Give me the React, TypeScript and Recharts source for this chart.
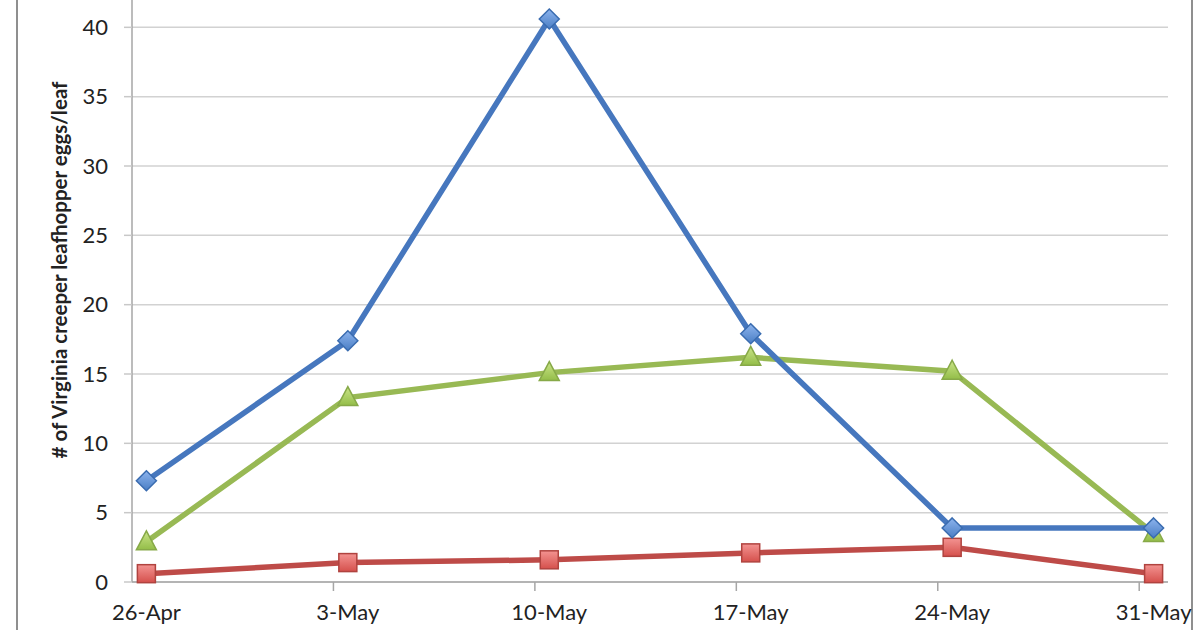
import { CartesianGrid, Line, LineChart, XAxis, YAxis } from "recharts";

const dateLabels = ["26-Apr", "3-May", "10-May", "17-May", "24-May", "31-May"];
const dayOffsets = [0, 7, 14, 21, 28, 35];
const blueSeries = [7.3, 17.4, 40.6, 17.9, 3.9, 3.9];
const redSeries = [0.6, 1.4, 1.6, 2.1, 2.5, 0.6];
const greenSeries = [2.9, 13.3, 15.1, 16.2, 15.2, 3.5];
const yTicks = [0, 5, 10, 15, 20, 25, 30, 35, 40];

const data = dayOffsets.map((day, i) => ({
  day,
  label: dateLabels[i],
  blue: blueSeries[i],
  red: redSeries[i],
  green: greenSeries[i],
}));

const FONT = "Lato, 'Open Sans', sans-serif";
const HALF_DAY_PX = 14.4;

function Diamond(props: any) {
  const { cx, cy } = props;
  if (cx == null || cy == null) return null;
  const r = 10;
  return (
    <polygon
      key={`d-${props.index}`}
      points={`${cx},${cy - r} ${cx + r},${cy} ${cx},${cy + r} ${cx - r},${cy}`}
      fill="url(#gBlue)"
      stroke="#3a6cb0"
      strokeWidth={1.5}
    />
  );
}

function Square(props: any) {
  const { cx, cy } = props;
  if (cx == null || cy == null) return null;
  const s = 9;
  return (
    <rect
      key={`s-${props.index}`}
      x={cx - s}
      y={cy - s}
      width={s * 2}
      height={s * 2}
      fill="url(#gRed)"
      stroke="#b0433f"
      strokeWidth={1.5}
    />
  );
}

function Triangle(props: any) {
  const { cx, cy } = props;
  if (cx == null || cy == null) return null;
  return (
    <polygon
      key={`t-${props.index}`}
      points={`${cx},${cy - 11} ${cx + 10},${cy + 8} ${cx - 10},${cy + 8}`}
      fill="url(#gGreen)"
      stroke="#87a948"
      strokeWidth={1.5}
    />
  );
}

function DateTick(props: any) {
  const { x, y, payload, index } = props;
  const label = dateLabels[dayOffsets.indexOf(payload.value)] ?? "";
  const tx = x - HALF_DAY_PX;
  return (
    <g>
      {index > 0 && <line x1={tx} y1={y} x2={tx} y2={y + 9} stroke="#a6a6a6" strokeWidth={1.5} />}
      <text x={x} y={y + 38} textAnchor="middle" fontSize={22} fontFamily={FONT} fill="#222">
        {label}
      </text>
    </g>
  );
}

function YTitle(props: any) {
  const { viewBox } = props;
  const x = viewBox.x + 67;
  const y = viewBox.y + viewBox.height / 2;
  return (
    <text
      x={x}
      y={y}
      transform={`rotate(-90, ${x}, ${y})`}
      textAnchor="middle"
      fontSize={20.5}
      fontWeight={700}
      fontFamily={FONT}
      fill="#222"
    >
      # of Virginia creeper leafhopper eggs/leaf
    </text>
  );
}

export default function App() {
  return (
    <div style={{ position: "absolute", left: 0, top: 0, width: 1200, height: 630, overflow: "hidden", background: "#fff" }}>
      <div style={{ position: "absolute", left: 16, top: 0, width: 2, height: 630, background: "#8f8f8f" }} />
      <div style={{ position: "absolute", left: 1191, top: 0, width: 2, height: 630, background: "#8f8f8f" }} />
      <div style={{ position: "absolute", left: 0, top: -60 }}>
        <LineChart width={1200} height={700} data={data} margin={{ top: 18, right: 32, bottom: 8, left: 0 }}>
          <defs>
            <linearGradient id="gBlue" x1="0" y1="0" x2="0" y2="1">
              <stop offset="0%" stopColor="#8db4ee" />
              <stop offset="100%" stopColor="#4a7ec4" />
            </linearGradient>
            <linearGradient id="gRed" x1="0" y1="0" x2="0" y2="1">
              <stop offset="0%" stopColor="#f39391" />
              <stop offset="100%" stopColor="#d5504c" />
            </linearGradient>
            <linearGradient id="gGreen" x1="0" y1="0" x2="0" y2="1">
              <stop offset="0%" stopColor="#cbe589" />
              <stop offset="100%" stopColor="#93bd48" />
            </linearGradient>
          </defs>
          <CartesianGrid stroke="#d2d2d2" strokeWidth={1.5} vertical={false} />
          <XAxis
            dataKey="day"
            type="number"
            domain={[-0.5, 35.5]}
            ticks={dayOffsets}
            interval={0}
            height={50}
            axisLine={{ stroke: "#a6a6a6", strokeWidth: 1.5 }}
            tickLine={false}
            tickSize={0}
            tickMargin={0}
            tick={<DateTick />}
          />
          <YAxis
            type="number"
            domain={[0, 45]}
            ticks={yTicks}
            interval={0}
            width={132}
            axisLine={{ stroke: "#a6a6a6", strokeWidth: 1.5 }}
            tickLine={{ stroke: "#c8c8c8", strokeWidth: 1.5 }}
            tickSize={8}
            tickMargin={16}
            tick={{ fontSize: 22, fontFamily: FONT, fill: "#222" }}
            label={<YTitle />}
          />
          <Line dataKey="red" stroke="#be4b48" strokeWidth={5.5} dot={<Square />} isAnimationActive={false} />
          <Line dataKey="green" stroke="#98b954" strokeWidth={5.5} dot={<Triangle />} isAnimationActive={false} />
          <Line dataKey="blue" stroke="#4677be" strokeWidth={5.5} dot={<Diamond />} isAnimationActive={false} />
        </LineChart>
      </div>
    </div>
  );
}
